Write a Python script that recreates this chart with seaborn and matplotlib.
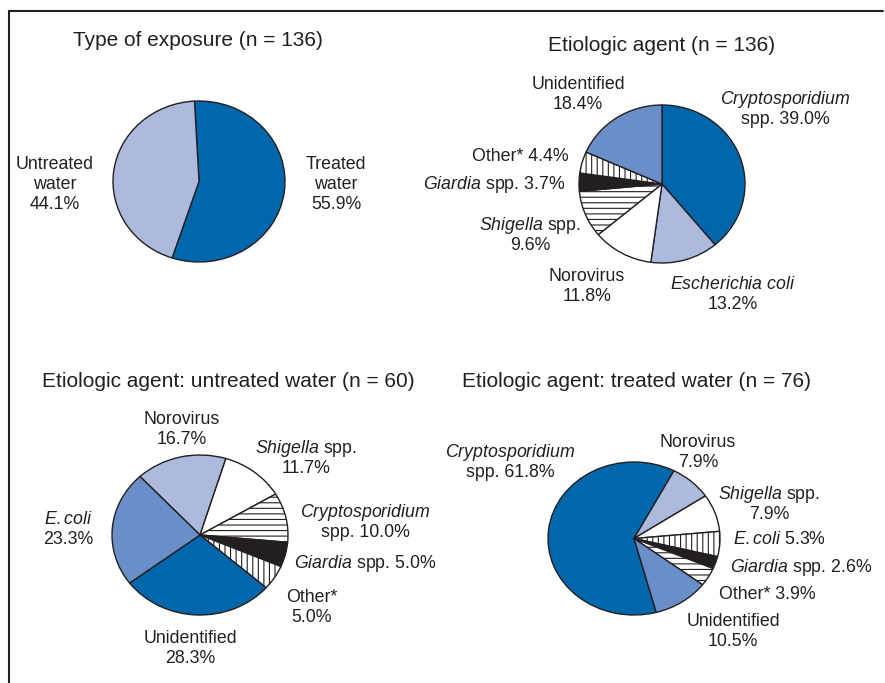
import matplotlib.pyplot as plt
import seaborn as sns
from matplotlib.lines import Line2D

sns.set_style('white')
plt.rcParams['font.family'] = ['Liberation Sans', 'DejaVu Sans']
plt.rcParams['mathtext.fontset'] = 'custom'
plt.rcParams['mathtext.rm'] = 'Liberation Sans'
plt.rcParams['mathtext.it'] = 'Liberation Sans:italic'
plt.rcParams['hatch.linewidth'] = 0.8

# --- data ---
exposure_types = ['Treated water', 'Untreated water']
exposure_pct = [55.9, 44.1]

all_agents = ['Cryptosporidium', 'Escherichia coli', 'Norovirus', 'Shigella', 'Giardia', 'Other', 'Unidentified']
all_pct = [39.0, 13.2, 11.8, 9.6, 3.7, 4.4, 18.4]

untreated_agents = ['Norovirus', 'Shigella', 'Cryptosporidium', 'Giardia', 'Other', 'Unidentified', 'E. coli']
untreated_pct = [16.7, 11.7, 10.0, 5.0, 5.0, 28.3, 23.3]

treated_agents = ['Cryptosporidium', 'Norovirus', 'Shigella', 'E. coli', 'Giardia', 'Other', 'Unidentified']
treated_pct = [61.8, 7.9, 7.9, 5.3, 2.6, 3.9, 10.5]

# --- look ---
W, H = 885, 683
INK = '#231f20'
STYLE = {
    'dark': ('#0067ad', ''),
    'light': ('#abbadd', ''),
    'mid': ('#6a8fc8', ''),
    'white': ('white', ''),
    'black': (INK, ''),
    'vert': ('white', '|||'),
    'horiz': ('white', '---'),
}

fig = plt.figure(figsize=(W / 100, H / 100), dpi=100)


def draw_pie(box, values, looks, start):
    # box in pixels: left, top, right, bottom
    x0, y0, x1, y1 = box
    ax = fig.add_axes([x0 / W, 1 - y1 / H, (x1 - x0) / W, (y1 - y0) / H])
    wedges, _ = ax.pie(values, startangle=start, counterclock=False,
                       colors=[STYLE[k][0] for k in looks],
                       wedgeprops=dict(edgecolor=INK, linewidth=1.0))
    for w, k in zip(wedges, looks):
        w.set_hatch(STYLE[k][1])
        w.set_clip_on(False)
    ax.set_aspect('auto')
    ax.set_xlim(-1, 1)
    ax.set_ylim(-1, 1)
    ax.axis('off')


def label(x, y, lines, size=12.8, ha='center'):
    for i, s in enumerate(lines):
        fig.text(x / W, 1 - (y + i * 20) / H, s, ha=ha, va='baseline',
                 fontsize=size, color=INK)


def title(x, y, s):
    fig.text(x / W, 1 - y / H, s, ha='left', va='baseline', fontsize=15, color=INK)


# frame (top and left only)
fig.add_artist(Line2D([9 / W, 883 / W], [1 - 11 / H, 1 - 11 / H], color=INK, lw=1.5))
fig.add_artist(Line2D([9 / W, 9 / W], [1 - 11 / H, 0], color=INK, lw=1.5))

# Type of exposure
draw_pie((113, 101, 285, 262), exposure_pct, ['dark', 'light'], 93)
title(73, 46, 'Type of exposure (n = 136)')
label(55, 169, ['Untreated', 'water', '44.1%'])
label(336, 169, ['Treated', 'water', '55.9%'])

# Etiologic agent, all
draw_pie((579, 105, 745, 263), all_pct,
         ['dark', 'light', 'white', 'horiz', 'black', 'vert', 'mid'], 90)
title(548, 51, 'Etiologic agent (n = 136)')
label(578, 89, ['Unidentified', '18.4%'])
label(785, 104, [r'$\mathit{Cryptosporidium}$', 'spp. 39.0%'])
label(520, 161, ['Other* 4.4%'])
label(494, 189, [r'$\mathit{Giardia}$ spp. 3.7%'])
label(530, 230, [r'$\mathit{Shigella}$ spp.', '9.6%'])
label(587, 281, ['Norovirus', '11.8%'])
label(733, 289, [r'$\mathit{Escherichia\ coli}$', '13.2%'])

# Etiologic agent, untreated water
draw_pie((112, 455, 288, 615), untreated_pct,
         ['light', 'white', 'horiz', 'black', 'vert', 'dark', 'mid'], 133)
title(42, 387, 'Etiologic agent: untreated water (n = 60)')
label(182, 424, ['Norovirus', '16.7%'])
label(306, 453, [r'$\mathit{Shigella}$ spp.', '11.7%'])
label(365, 517, [r'$\mathit{Cryptosporidium}$', 'spp. 10.0%'])
label(365, 568, [r'$\mathit{Giardia}$ spp. 5.0%'])
label(312, 602, ['Other*', '5.0%'])
label(190, 643, ['Unidentified', '28.3%'])
label(68, 524, [r'$\mathit{E.coli}$', '23.3%'])

# Etiologic agent, treated water
draw_pie((548, 462, 720, 615), treated_pct,
         ['dark', 'light', 'white', 'vert', 'black', 'horiz', 'mid'], -75)
title(462, 387, 'Etiologic agent: treated water (n = 76)')
label(510, 457, [r'$\mathit{Cryptosporidium}$', 'spp. 61.8%'])
label(698, 447, ['Norovirus', '7.9%'])
label(769, 499, [r'$\mathit{Shigella}$ spp.', '7.9%'])
label(780, 544, [r'$\mathit{E.coli}$ 5.3%'])
label(801, 572, [r'$\mathit{Giardia}$ spp. 2.6%'])
label(767, 599, ['Other* 3.9%'])
label(733, 626, ['Unidentified', '10.5%'])

fig.savefig('out.png', dpi=100)
